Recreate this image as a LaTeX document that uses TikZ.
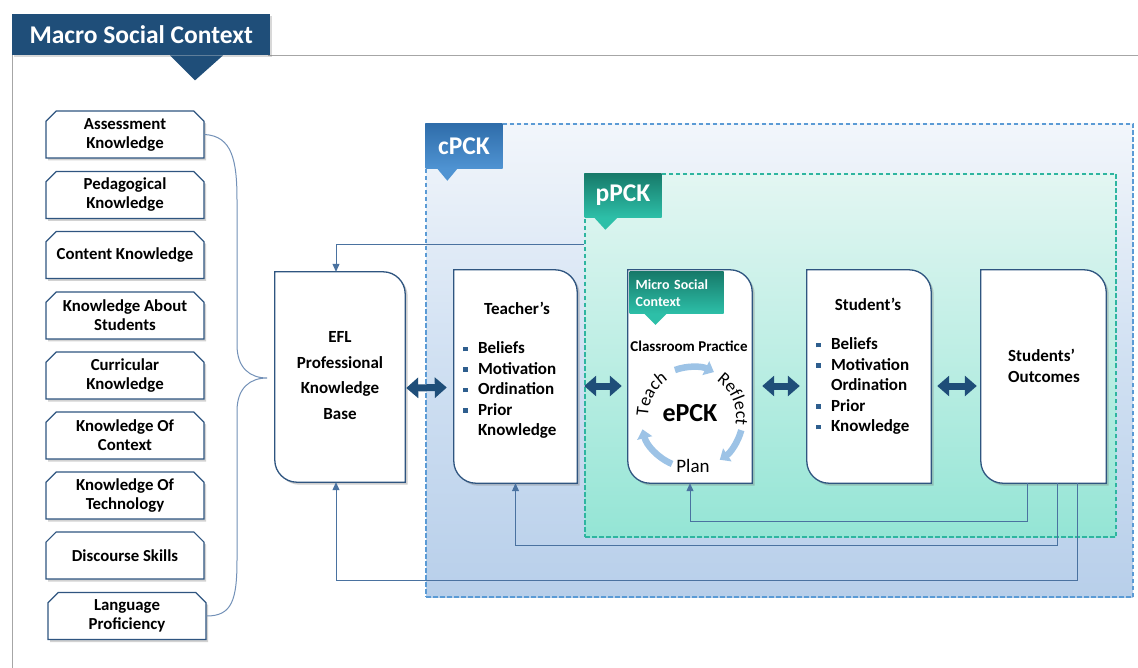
\documentclass[tikz,border=0pt]{standalone}
\usepackage{fontspec}
\setmainfont{Carlito}
\usetikzlibrary{arrows.meta,shapes.misc,shadows,decorations.text}

\definecolor{navy}{HTML}{1F4E79}
\definecolor{boxline}{HTML}{2F5580}
\definecolor{conn}{HTML}{4A72A0}
\definecolor{bracec}{HTML}{7391B8}
\definecolor{bul}{HTML}{2E5E8E}
\definecolor{framegray}{HTML}{A6A6A6}
\definecolor{cpckline}{HTML}{5B9BD5}
\definecolor{cpcktop}{HTML}{F2F6FB}
\definecolor{cpckmid}{HTML}{D0E0F2}
\definecolor{cpckbot}{HTML}{B8CFEA}
\definecolor{ppckline}{HTML}{2EB5A0}
\definecolor{ppcktop}{HTML}{E3F6F2}
\definecolor{ppckmid}{HTML}{BDEEE4}
\definecolor{ppckbot}{HTML}{94E5D5}
\definecolor{ctagA}{HTML}{2F6DAA}
\definecolor{ctagB}{HTML}{4F93D2}
\definecolor{ptagA}{HTML}{177A6A}
\definecolor{ptagB}{HTML}{2DBFA8}
\definecolor{cyc}{HTML}{9DC3E6}

\newcommand\blt{\textcolor{bul}{\rule[0.25ex]{4.5pt}{4.5pt}}\hspace{10.5pt}}
\newcommand\nblt{\hspace{15pt}}
\newcommand\cycfont{\fontsize{18}{18}\selectfont}

% outline with rounded top-right and bottom-left corners, plus a soft shadow
\newcommand\diagbox[1]{%
  \draw[boxline, line width=1.3pt, fill=white,
        preaction={fill=black!55, fill opacity=0.35, draw=none,
                   transform canvas={xshift=2.5pt, yshift=-2.5pt}}]
   (#1.north west) -- ([xshift=-22pt]#1.north east)
   .. controls ([xshift=-10pt]#1.north east) and ([yshift=-10pt]#1.north east) .. ([yshift=-22pt]#1.north east)
   -- (#1.south east) -- ([xshift=22pt]#1.south west)
   .. controls ([xshift=10pt]#1.south west) and ([yshift=10pt]#1.south west) .. ([yshift=22pt]#1.south west)
   -- cycle;}

\begin{document}
\begin{tikzpicture}[x=1pt, y=-1pt,
  kbox/.style={chamfered rectangle, chamfered rectangle corners={north west,north east},
    chamfered rectangle xsep=7pt, draw=boxline, line width=1.2pt, fill=white,
    minimum width=158pt, minimum height=47pt, inner sep=1pt, align=center,
    font=\bfseries\fontsize{16.8}{19}\selectfont,
    drop shadow={shadow xshift=2pt, shadow yshift=-2.5pt, opacity=0.35}},
  holder/.style={inner sep=0pt, minimum width=#1},
  btext/.style={font=\bfseries\fontsize{17}{20.5}\selectfont, align=left},
  region/.style={line width=1.3pt, dash pattern=on 4.5pt off 2.5pt, inner sep=0pt},
  tag/.style={inner sep=0pt, text=white, font=\bfseries\fontsize{25.5}{25.5}\selectfont},
  conn/.style={draw=conn, line width=1pt},
  tip/.style={-{Triangle[length=8pt, width=7pt]}},
  dbl/.style={navy, line width=7pt, {Triangle[length=12pt, width=20pt]}-{Triangle[length=12pt, width=20pt]}},
  cycarrow/.style={cyc, line width=6.5pt, -{Triangle[length=9pt, width=15pt]}}]

\useasboundingbox (0,0) rectangle (1138,668);
\fill[white] (0,0) rectangle (1138,668);

% frame of the macro context
\draw[framegray, line width=1pt] (268,55.5) -- (1138,55.5);
\draw[framegray, line width=1pt] (12.5,55) -- (12.5,668);

% title banner
\node[fill=navy, text=white, anchor=north west, minimum width=258pt, minimum height=41pt,
      inner sep=0pt, font=\bfseries\fontsize{25.5}{25.5}\selectfont,
      drop shadow={shadow xshift=2pt, shadow yshift=-2pt, opacity=0.3}]
  (macro) at (12,14) {Macro Social Context};
\fill[navy] ([xshift=158pt]macro.south west) -- ([xshift=183pt,yshift=-25pt]macro.south west)
  -- ([xshift=211pt]macro.south west) -- cycle;

% knowledge components
\node[kbox] (k1) at (125,134.5) {Assessment\\Knowledge};
\node[kbox] (k2) at (125,195)   {Pedagogical\\Knowledge};
\node[kbox] (k3) at (125,255)   {Content Knowledge};
\node[kbox] (k4) at (125,315.5) {Knowledge About\\Students};
\node[kbox] (k5) at (125,375.5) {Curricular\\Knowledge};
\node[kbox] (k6) at (125,435.5) {Knowledge Of\\Context};
\node[kbox] (k7) at (125,495.5) {Knowledge Of\\Technology};
\node[kbox] (k8) at (125,555.5) {Discourse Skills};
\node[kbox] (k9) at (127,616)   {Language\\Proficiency};

% brace gathering the components
\coordinate (bracetip) at (267,378);
\draw[bracec, line width=1pt]
  (k1.east) .. controls (232,136) and (237,160) .. (237,200) -- (237,345)
  .. controls (237,368) and (250,378) .. (bracetip)
  .. controls (250,378) and (237,388) .. (237,411) -- (237,560)
  .. controls (237,600) and (232,616) .. (k9.east);

% cPCK and pPCK regions
\node[region, draw=cpckline, top color=cpcktop, bottom color=cpckbot, middle color=cpckmid,
      minimum width=707pt, minimum height=473pt] (cpck) at (779.5,360.5) {};
\node[tag, top color=ctagA, bottom color=ctagB, anchor=north west,
      minimum width=77pt, minimum height=45pt] (cpcktag) at (cpck.north west) {cPCK};
\fill[ctagB] ([xshift=12pt]cpcktag.south west) -- ([xshift=22pt,yshift=-12pt]cpcktag.south west)
  -- ([xshift=32pt]cpcktag.south west) -- cycle;

\node[region, draw=ppckline, top color=ppcktop, bottom color=ppckbot, middle color=ppckmid,
      minimum width=531pt, minimum height=363pt] (ppck) at (850.5,355.5) {};
\node[tag, top color=ptagA, bottom color=ptagB, anchor=north west,
      minimum width=77pt, minimum height=44pt] (ppcktag) at (ppck.north west) {pPCK};
\fill[ptagB] ([xshift=10pt]ppcktag.south west) -- ([xshift=21pt,yshift=-12pt]ppcktag.south west)
  -- ([xshift=33pt]ppcktag.south west) -- cycle;

% main boxes
\node[holder=130pt, minimum height=210pt] (efl)   at (340,377)    {};
\node[holder=123pt, minimum height=213pt] (teach) at (515.5,376.5) {};
\node[holder=124pt, minimum height=213pt] (epck)  at (690,376.5)  {};
\node[holder=124pt, minimum height=213pt] (stud)  at (869,376.5)  {};
\node[holder=125pt, minimum height=213pt] (outc)  at (1043.5,376.5) {};
\diagbox{efl}
\diagbox{teach}
\diagbox{epck}
\diagbox{stud}
\diagbox{outc}

% texts of the boxes
\node[btext, align=center, font=\bfseries\fontsize{17}{25.5}\selectfont] (efltext) at (340,375.5)
  {EFL\\Professional\\Knowledge\\Base};

\node[btext] (teachtitle) at (517,308) {Teacher’s};
\node[btext, anchor=west] (teachlist) at (459.5,390)
  {\blt Beliefs\\\blt Motivation\\\blt Ordination\\\blt Prior\\\nblt Knowledge};

\node[btext] (studtitle) at (868,304) {Student’s};
\node[btext, anchor=west] (studlist) at (812.5,386)
  {\blt Beliefs\\\blt Motivation\\\nblt Ordination\\\blt Prior\\\blt Knowledge};

\node[btext] (outctext) at (1044,366) {Students’\\Outcomes};

% micro social context inside the classroom box
\node[tag, top color=ptagA, bottom color=ptagB, anchor=north west, minimum width=94pt,
      minimum height=42pt, text width=82pt, inner xsep=6pt, align=left,
      font=\bfseries\fontsize{14}{17}\selectfont] (microtag) at (629.5,271.5) {Micro Social\\Context};
\fill[ptagB] ([xshift=15pt]microtag.south west) -- ([xshift=26pt,yshift=-11pt]microtag.south west)
  -- ([xshift=37pt]microtag.south west) -- cycle;

\node[font=\bfseries\fontsize{15}{15}\selectfont] (classroom) at (689,346) {Classroom Practice};

% teach - reflect - plan cycle
\coordinate (cyc) at (692,417);
\draw[cycarrow] (cyc) ++(250:50) arc[start angle=250, end angle=296, radius=50];
\draw[cycarrow] (cyc) ++(15:51) arc[start angle=15, end angle=57, radius=51];
\draw[cycarrow] (cyc) ++(113:51) arc[start angle=113, end angle=166, radius=51];
\path[decorate, decoration={text along path, text align=center, text={|\cycfont|Teach}}]
  (cyc) ++(166:44) arc[start angle=166, end angle=252, radius=44];
\path[decorate, decoration={text along path, text align=center, text={|\cycfont|Reflect}}]
  (cyc) ++(294:44) arc[start angle=294, end angle=380, radius=44];
\node[font=\bfseries\fontsize{26}{26}\selectfont] (epcktext) at (690,413) {ePCK};
\node[font=\fontsize{19}{19}\selectfont] (plan) at (693,466) {Plan};

% two-way links between the boxes
\draw[dbl] ([shift={(1pt,-11pt)}]efl.east) -- ([shift={(-7pt,-11pt)}]teach.west);
\draw[dbl] ([shift={(7pt,-9.5pt)}]teach.east) -- ([shift={(-6pt,-9.5pt)}]epck.west);
\draw[dbl] ([shift={(10pt,-9.5pt)}]epck.east) -- ([shift={(-7pt,-9.5pt)}]stud.west);
\draw[dbl] ([shift={(6pt,-9.5pt)}]stud.east) -- ([shift={(-4pt,-9.5pt)}]outc.west);

% feedback connectors
\draw[conn, tip] ([yshift=-71pt]ppck.north west) -| ([xshift=-4pt]efl.north);
\draw[conn, tip] ([xshift=-16.5pt]outc.south) -- ++(0,38) -| (epck.south);
\draw[conn, tip] ([xshift=13.5pt]outc.south) -- ++(0,62) -| (teach.south);
\draw[conn, tip] ([xshift=33.5pt]outc.south) -- ++(0,97) -| ([xshift=-4pt]efl.south);

\end{tikzpicture}
\end{document}
